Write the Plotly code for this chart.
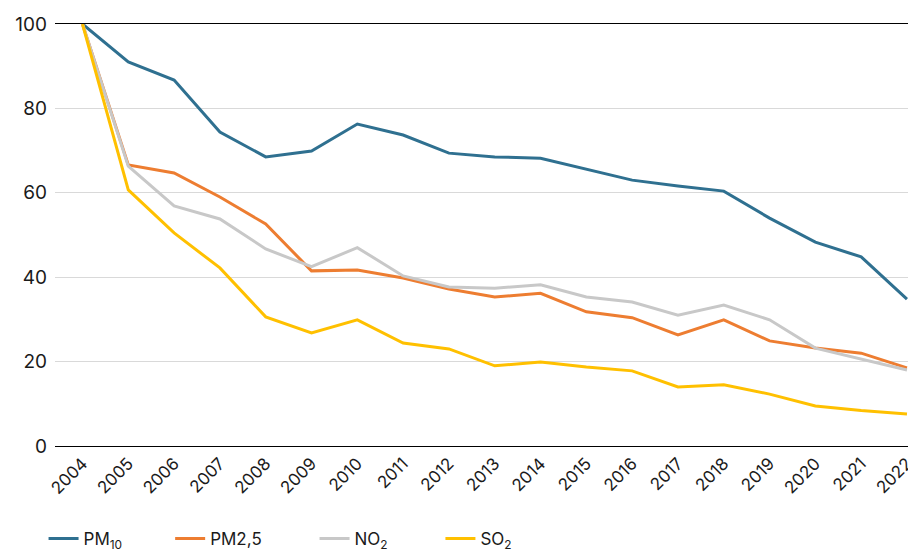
import plotly.graph_objects as go

years = [str(y) for y in range(2004, 2023)]
pm10 = [100, 91.0, 86.7, 74.4, 68.5, 69.9, 76.3, 73.7, 69.4, 68.5, 68.2, 65.6, 63.0, 61.6, 60.4, 54.0, 48.3, 44.8, 34.8]
pm25 = [100, 66.6, 64.7, 59.0, 52.6, 41.5, 41.7, 39.8, 37.2, 35.3, 36.2, 31.8, 30.4, 26.3, 29.9, 24.9, 23.2, 22.0, 18.5]
no2 = [100, 66.3, 56.9, 53.8, 46.7, 42.5, 47.0, 40.3, 37.7, 37.4, 38.2, 35.3, 34.1, 31.0, 33.4, 29.9, 23.2, 20.6, 18.0]
so2 = [100, 60.7, 50.5, 42.2, 30.6, 26.8, 29.9, 24.4, 23.0, 19.0, 19.9, 18.7, 17.8, 14.0, 14.5, 12.3, 9.5, 8.4, 7.6]

names = ["PM<sub>10</sub>", "PM2,5", "NO<sub>2</sub>", "SO<sub>2</sub>"]
colors = ["#2F7090", "#ED7D31", "#C8C8C8", "#FFC000"]
series = [pm10, pm25, no2, so2]
pads = ["\u00a0" * 9, "\u00a0" * 10, "\u00a0" * 10, "\u00a0" * 10]

fig = go.Figure()
x_idx = list(range(len(years)))
for name, col, vals, p in zip(names, colors, series, pads):
    fig.add_trace(go.Scatter(x=x_idx, y=vals, mode="lines", name=name + p,
                             line=dict(color=col, width=3), cliponaxis=False))

# the page body has an 8px default margin, so the figure is 8px smaller and shifted
fig.update_layout(
    width=908, height=542,
    margin=dict(l=47, r=7, t=16, b=104, autoexpand=False),
    paper_bgcolor="white", plot_bgcolor="white",
    font=dict(family="Inter, Liberation Sans, sans-serif", size=17, color="#1a1a1a"),
    showlegend=True,
    legend=dict(orientation="h", x=-0.0134, xanchor="left", y=-0.2205, yanchor="middle",
                font=dict(size=17), itemwidth=30, tracegroupgap=0),
    xaxis=dict(tickmode="array", tickvals=x_idx, ticktext=years, tickangle=-45,
               range=[-0.6, 18.044], showgrid=False, showline=True, mirror=True,
               linecolor="black", linewidth=1, ticks="", zeroline=False,
               automargin=False, ticklabeloverflow="allow", tickfont=dict(size=17)),
    yaxis=dict(range=[0, 100], tickvals=[0, 20, 40, 60, 80, 100], showgrid=True,
               gridcolor="#D9D9D9", gridwidth=1, zeroline=False, showline=False,
               ticks="", ticklabelstandoff=7, automargin=False, tickfont=dict(size=19)),
)

fig.write_html("out.html")
